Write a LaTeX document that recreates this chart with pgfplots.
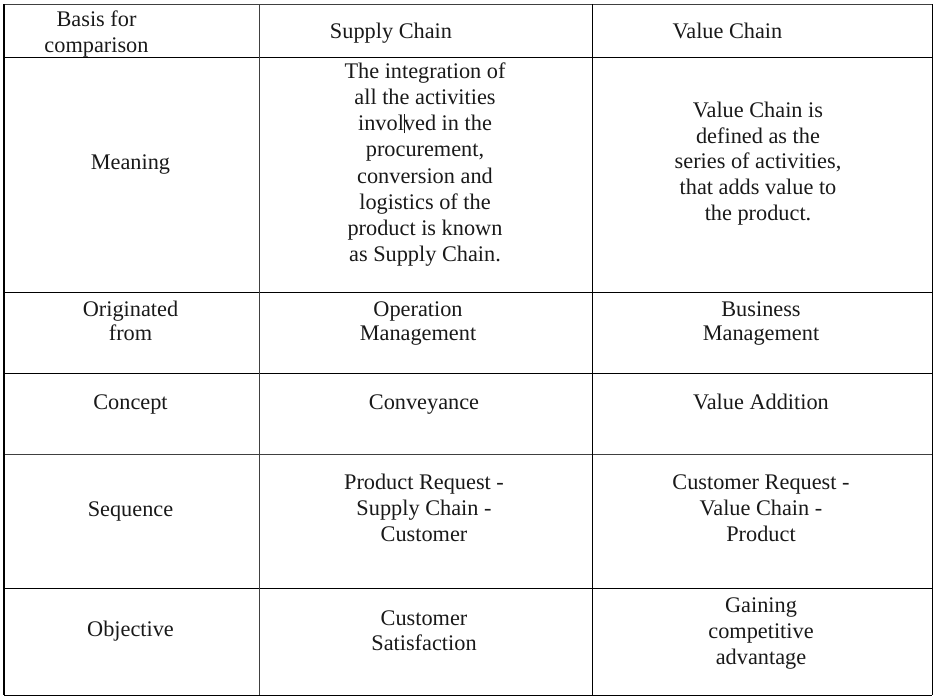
\documentclass[border=0pt]{standalone}
\usepackage{fontspec}
\setmainfont{Liberation Serif}
\newfontfamily\tnr{Liberation Serif}
\usepackage{pgfplots}
\pgfplotsset{compat=1.18}
\tikzset{tl/.style={anchor=base, inner sep=0pt, font=\tnr\fontsize{22.3bp}{26bp}\selectfont, text=black!90}}
\begin{document}
\begin{tikzpicture}
\useasboundingbox (0,0) rectangle (937bp,700bp);
\begin{axis}[
  at={(0,0)}, anchor=south west,
  scale only axis, width=937bp, height=700bp,
  xmin=0, xmax=937, ymin=0, ymax=700, y dir=reverse,
  hide axis, clip=false,
  cycle list={{black!75, solid, mark=none, line width=1.3bp}},
]
% horizontal rules
\addplot coordinates {(4,4) (932,4)};
\addplot coordinates {(4,57) (932,57)};
\addplot coordinates {(4,292.5) (932,292.5)};
\addplot coordinates {(4,373.5) (932,373.5)};
\addplot coordinates {(4,454) (932,454)};
\addplot coordinates {(4,588.5) (932,588.5)};
\addplot coordinates {(4,695) (932,695)};
% vertical rules
\addplot coordinates {(4,4) (4,695)};
\addplot coordinates {(259,4) (259,695)};
\addplot coordinates {(592,4) (592,695)};
\addplot coordinates {(932,4) (932,695)};
% header
\node[tl] at (axis cs:96.5,26.7) {Basis for};
\node[tl] at (axis cs:96.5,52.7) {comparison};
\node[tl] at (axis cs:391,38.3) {Supply Chain};
\node[tl] at (axis cs:727.5,38.3) {Value Chain};
% Meaning
\node[tl] at (axis cs:130.5,169) {Meaning};
\node[tl] at (axis cs:425,78.3) {The integration of};
\node[tl] at (axis cs:425,104.5) {all the activities};
\node[tl] at (axis cs:425,130.7) {invol\makebox[0pt]{\rule[-2.6bp]{0.9bp}{19.5bp}}ved in the};
\node[tl] at (axis cs:425,156.9) {procurement,};
\node[tl] at (axis cs:425,183.1) {conversion and};
\node[tl] at (axis cs:425,209.3) {logistics of the};
\node[tl] at (axis cs:425,235.5) {product is known};
\node[tl] at (axis cs:425,261.7) {as Supply Chain.};
\node[tl] at (axis cs:758,117.3) {Value Chain is};
\node[tl] at (axis cs:758,143) {defined as the};
\node[tl] at (axis cs:758,168.7) {series of activities,};
\node[tl] at (axis cs:758,194.3) {that adds value to};
\node[tl] at (axis cs:758,220) {the product.};
% Originated from
\node[tl] at (axis cs:130.5,316) {Originated};
\node[tl] at (axis cs:130.5,340.5) {from};
\node[tl] at (axis cs:418,316.7) {Operation};
\node[tl] at (axis cs:418,340.7) {Management};
\node[tl] at (axis cs:761,316.7) {Business};
\node[tl] at (axis cs:761,340.7) {Management};
% Concept
\node[tl] at (axis cs:130.5,409.3) {Concept};
\node[tl] at (axis cs:424,409.3) {Conveyance};
\node[tl] at (axis cs:761,409.3) {Value Addition};
% Sequence
\node[tl] at (axis cs:130.5,516.7) {Sequence};
\node[tl] at (axis cs:424,489.3) {Product Request -};
\node[tl] at (axis cs:424,515.7) {Supply Chain -};
\node[tl] at (axis cs:424,541.7) {Customer};
\node[tl] at (axis cs:761,489.3) {Customer Request -};
\node[tl] at (axis cs:761,515.7) {Value Chain -};
\node[tl] at (axis cs:761,541.7) {Product};
% Objective
\node[tl] at (axis cs:130.5,636.7) {Objective};
\node[tl] at (axis cs:424,625) {Customer};
\node[tl] at (axis cs:424,650.7) {Satisfaction};
\node[tl] at (axis cs:761,612) {Gaining};
\node[tl] at (axis cs:761,638) {competitive};
\node[tl] at (axis cs:761,664) {advantage};
\end{axis}
\end{tikzpicture}
\end{document}
